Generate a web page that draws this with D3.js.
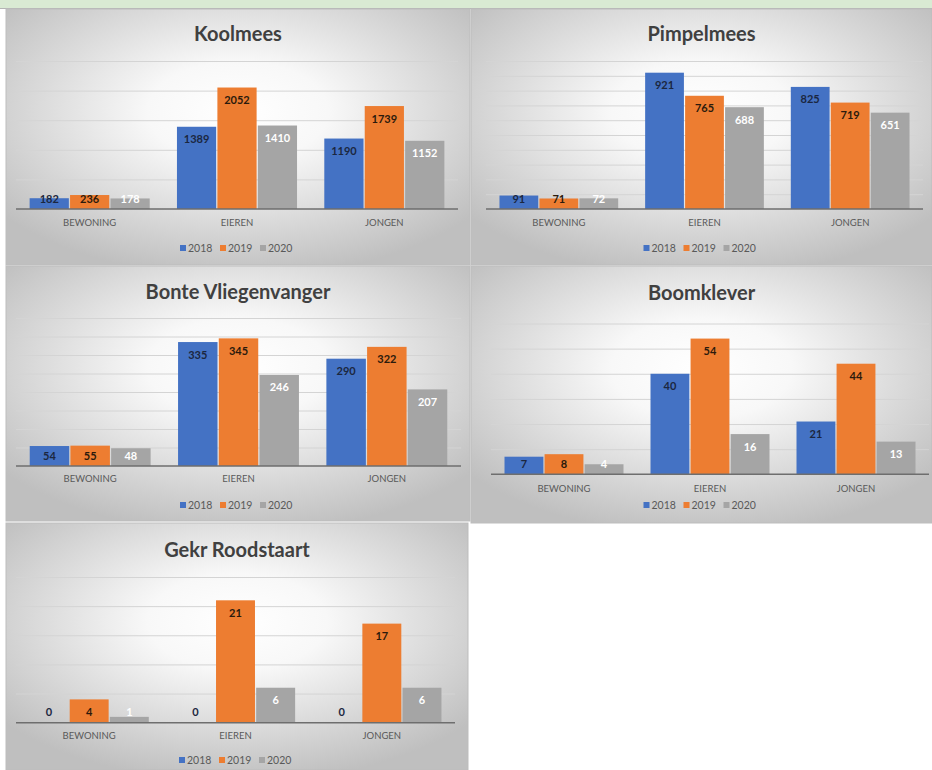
<!DOCTYPE html>
<html><head><meta charset="utf-8">
<script src="https://cdn.jsdelivr.net/npm/d3@7/dist/d3.min.js"></script>
<style>body{margin:0;background:#fff;}svg{display:block;font-family:Lato,"Open Sans",sans-serif;}</style>
</head><body>
<svg id="c" width="932" height="770"></svg>
<script>
const categories = ["BEWONING", "EIEREN", "JONGEN"];
const years = ["2018", "2019", "2020"];
const titles = ["Koolmees", "Pimpelmees", "Bonte Vliegenvanger", "Boomklever", "Gekr Roodstaart"];
const koolmees = [[182, 1389, 1190], [236, 2052, 1739], [178, 1410, 1152]];
const pimpelmees = [[91, 921, 825], [71, 765, 719], [72, 688, 651]];
const bonteVliegenvanger = [[54, 335, 290], [55, 345, 322], [48, 246, 207]];
const boomklever = [[7, 40, 21], [8, 54, 44], [4, 16, 13]];
const gekrRoodstaart = [[0, 0, 0], [4, 21, 17], [1, 6, 6]];
const axisMax = [2500, 1000, 400, 60, 25];
const tickStep = [500, 100, 50, 10, 5];
const seriesData = [koolmees, pimpelmees, bonteVliegenvanger, boomklever, gekrRoodstaart];

const colors = ["#4472c4", "#ed7d31", "#a5a5a5"];
const labelColors = ["#1b2740", "#2b1a0c", "#ffffff"];

// layout (positions only)
const layout = [
  {x:6, y:9, w:464, h:256, px0:16, px1:458, top:61, base:209, ty:33, cy:223, ly:248},
  {x:471, y:9, w:461, h:256, px0:486, px1:923, top:61, base:209, ty:33, cy:223, ly:248},
  {x:6, y:266, w:464, h:255, px0:16, px1:461, top:318, base:466, ty:291, cy:479, ly:505},
  {x:471, y:266, w:461, h:257, px0:491, px1:929, top:323.5, base:474.3, ty:292, cy:489, ly:505},
  {x:6, y:523, w:462, h:247, px0:16, px1:455, top:577, base:722.7, ty:549, cy:736, ly:760}
];

const svg = d3.select("#c");
const defs = svg.append("defs");
const rg = defs.append("radialGradient").attr("id","bg").attr("cx","50%").attr("cy","40%").attr("r","65%");
rg.append("stop").attr("offset","0%").attr("stop-color","#ffffff");
rg.append("stop").attr("offset","30%").attr("stop-color","#f8f8f8");
rg.append("stop").attr("offset","100%").attr("stop-color","#bfbfbf");

// top strip
svg.append("rect").attr("x",0).attr("y",0).attr("width",932).attr("height",8).attr("fill","#d9ead3");
svg.append("line").attr("x1",0).attr("x2",932).attr("y1",8.5).attr("y2",8.5).attr("stroke","#b4b4b4");

layout.forEach((L, i) => {
  const g = svg.append("g");
  g.append("rect").attr("x",L.x).attr("y",L.y).attr("width",L.w).attr("height",L.h)
    .attr("fill","url(#bg)").attr("stroke","#bdbdbd").attr("stroke-width",1);

  g.append("text").attr("x",L.x+L.w/2).attr("y",L.ty).attr("text-anchor","middle")
    .attr("dominant-baseline","central").attr("font-size",20).attr("font-weight","bold")
    .attr("fill","#404040").text(titles[i]);

  const x0 = d3.scaleBand().domain(categories).range([L.px0, L.px1]).paddingInner(0.185).paddingOuter(0.0925);
  const x1 = d3.scaleBand().domain(years).range([0, x0.bandwidth()]).paddingInner(0.03);
  const y = d3.scaleLinear().domain([0, axisMax[i]]).range([L.base, L.top]);

  const ticks = d3.range(tickStep[i], axisMax[i] + tickStep[i]/2, tickStep[i]);
  const yAxis = d3.axisLeft(y).tickValues(ticks).tickSize(-(L.px1 - L.px0)).tickFormat("");
  const ga = g.append("g").attr("transform",`translate(${L.px0},0)`).call(yAxis);
  ga.select(".domain").remove();
  ga.selectAll(".tick line").attr("stroke","#d4d4d4").attr("stroke-width",1);

  const data = seriesData[i];
  years.forEach((yr, s) => {
    categories.forEach((c, k) => {
      const v = data[s][k];
      const bx = x0(c) + x1(yr);
      g.append("rect").attr("x",bx).attr("y",y(v)).attr("width",x1.bandwidth())
        .attr("height",L.base - y(v)).attr("fill",colors[s]);
      const ly = Math.min(y(v) + 12, L.base - 11);
      g.append("text").attr("x",bx + x1.bandwidth()/2).attr("y",ly).attr("text-anchor","middle")
        .attr("dominant-baseline","central").attr("font-size",11).attr("font-weight","bold")
        .attr("fill",labelColors[s]).text(v);
    });
  });

  const xAxis = d3.axisBottom(x0).tickSize(0).tickPadding(0);
  const gx = g.append("g").attr("transform",`translate(0,${L.base})`).call(xAxis);
  gx.select(".domain").attr("stroke","#6e6e6e").attr("stroke-width",1.5).attr("d",`M${L.px0},0H${L.px1}`);
  gx.selectAll(".tick text").attr("y", L.cy - L.base).attr("dy","0.35em")
    .attr("font-size",9.5).attr("fill","#595959").attr("font-family","Lato,'Open Sans',sans-serif");

  // legend
  const cx = L.x + L.w/2 + 2;
  const itemW = 40;
  years.forEach((yr, s) => {
    const lx = cx - itemW*1.5 + s*itemW;
    g.append("rect").attr("x",lx).attr("y",L.ly-3).attr("width",6).attr("height",6).attr("fill",colors[s]);
    g.append("text").attr("x",lx+8).attr("y",L.ly).attr("dominant-baseline","central")
      .attr("font-size",10.5).attr("fill","#595959").text(yr);
  });
});
</script>
</body></html>
